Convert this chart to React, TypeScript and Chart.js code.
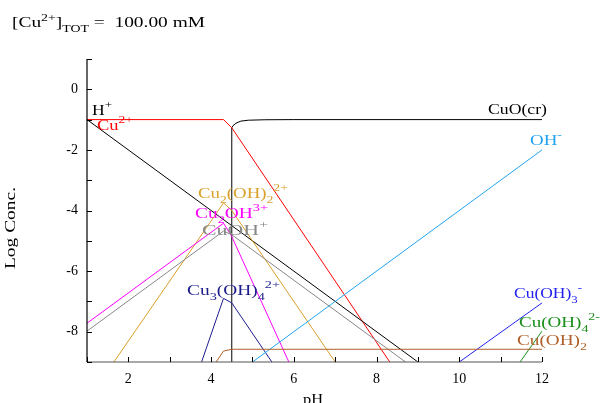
import React, { useEffect, useRef } from 'react';
import { Chart, registerables } from 'chart.js';

Chart.register(...registerables);

// ---------- data ----------
const PH_MIN = 1;
const PH_MAX = 12;
const LOG_MIN = -9;
const LOG_MAX = 1;
const X_TICK_LABELS = [2, 4, 6, 8, 10, 12];
const Y_TICK_LABELS = [0, -2, -4, -6, -8];

const H_PLUS: number[][] = [[1, -1], [9, -9]];
const OH_MINUS: number[][] = [[5, -9], [12, -2]];
const CU2: number[][] = [[1, -1], [4.3, -1], [4.5, -1.27], [8.32, -9]];
const CUO_CR: number[][] = [[4.5, -9], [4.5, -1.27], [4.53, -1.2], [4.6, -1.12], [4.72, -1.05], [4.9, -1.02], [5.3, -1.005], [6, -1], [12, -1]];
const CU2_OH2: number[][] = [[1.65, -9], [4.3, -3.75], [4.5, -4.0], [7.0, -9]];
const CU2_OH: number[][] = [[1, -7.72], [4.3, -4.42], [4.5, -4.86], [5.88, -9]];
const CU_OH: number[][] = [[1, -7.98], [4.3, -4.68], [4.5, -4.8], [8.7, -9]];
const CU3_OH4: number[][] = [[3.77, -9], [4.3, -6.9], [4.5, -7.05], [5.47, -9]];
const CU_OH2: number[][] = [[4.12, -9], [4.3, -8.64], [4.5, -8.58], [12, -8.58]];
const CU_OH3: number[][] = [[10, -9], [12, -7.05]];
const CU_OH4: number[][] = [[11.47, -9], [12, -7.98]];

type Part = { t: string; k?: 'sub' | 'sup' };

const SERIES: { name: string; data: number[][]; color: string }[] = [
  { name: 'Cu(OH)2', data: CU_OH2, color: '#b0602a' },
  { name: 'Cu(OH)4 2-', data: CU_OH4, color: '#1a901a' },
  { name: 'Cu(OH)3-', data: CU_OH3, color: '#2222f0' },
  { name: 'OH-', data: OH_MINUS, color: '#22a4f0' },
  { name: 'Cu3(OH)4 2+', data: CU3_OH4, color: '#1c1c8c' },
  { name: 'CuOH+', data: CU_OH, color: '#888888' },
  { name: 'Cu2OH3+', data: CU2_OH, color: '#ff00ff' },
  { name: 'Cu2(OH)2 2+', data: CU2_OH2, color: '#d9a02a' },
  { name: 'H+', data: H_PLUS, color: '#000000' },
  { name: 'Cu2+', data: CU2, color: '#ff0000' },
  { name: 'CuO(cr)', data: CUO_CR, color: '#000000' },
];

// ---------- text layout (pixels) ----------
const FAMILY = '"Liberation Serif", "Times New Roman", serif';

const LABELS: { parts: Part[]; x: number; y: number; w: number; color: string }[] = [
  { parts: [{ t: 'H' }, { t: '+', k: 'sup' }], x: 92, y: 115, w: 20, color: '#000000' },
  { parts: [{ t: 'Cu' }, { t: '2+', k: 'sup' }], x: 97, y: 130, w: 36, color: '#ff0000' },
  { parts: [{ t: 'CuO(cr)' }], x: 488, y: 114, w: 59, color: '#000000' },
  { parts: [{ t: 'OH' }, { t: '-', k: 'sup' }], x: 530, y: 145, w: 32, color: '#22a4f0' },
  { parts: [{ t: 'Cu' }, { t: '2', k: 'sub' }, { t: '(OH)' }, { t: '2', k: 'sub' }, { t: '2+', k: 'sup' }], x: 198, y: 198, w: 90, color: '#d9a02a' },
  { parts: [{ t: 'Cu' }, { t: '2', k: 'sub' }, { t: 'OH' }, { t: '3+', k: 'sup' }], x: 195, y: 218, w: 73, color: '#ff00ff' },
  { parts: [{ t: 'CuOH' }, { t: '+', k: 'sup' }], x: 202, y: 235, w: 66, color: '#888888' },
  { parts: [{ t: 'Cu' }, { t: '3', k: 'sub' }, { t: '(OH)' }, { t: '4', k: 'sub' }, { t: '2+', k: 'sup' }], x: 187, y: 295, w: 93, color: '#1c1c8c' },
  { parts: [{ t: 'Cu(OH)' }, { t: '3', k: 'sub' }, { t: '-', k: 'sup' }], x: 514, y: 298, w: 68, color: '#2222f0' },
  { parts: [{ t: 'Cu(OH)' }, { t: '4', k: 'sub' }, { t: '2-', k: 'sup' }], x: 519, y: 327, w: 81, color: '#1a901a' },
  { parts: [{ t: 'Cu(OH)' }, { t: '2', k: 'sub' }], x: 517, y: 345, w: 70, color: '#b0602a' },
];

function drawRich(
  ctx: CanvasRenderingContext2D,
  parts: Part[],
  x: number,
  y: number,
  size: number,
  color: string,
  targetW?: number,
  subSize?: number
) {
  const ss = subSize ?? Math.round(size * 0.72);
  const fontFor = (k?: string) => `${k ? ss : size}px ${FAMILY}`;
  let w = 0;
  for (const p of parts) {
    ctx.font = fontFor(p.k);
    w += ctx.measureText(p.t).width;
  }
  const sx = targetW ? targetW / w : 1;
  ctx.save();
  ctx.translate(x, y);
  ctx.scale(sx, 1);
  ctx.fillStyle = color;
  ctx.textAlign = 'left';
  ctx.textBaseline = 'alphabetic';
  let cx = 0;
  for (const p of parts) {
    ctx.font = fontFor(p.k);
    const dy = p.k === 'sub' ? size * 0.33 : p.k === 'sup' ? -size * 0.45 : 0;
    ctx.fillText(p.t, cx, dy);
    cx += ctx.measureText(p.t).width;
  }
  ctx.restore();
}

const decorPlugin = {
  id: 'decor',
  afterDatasetsDraw(chart: any) {
    const ctx: CanvasRenderingContext2D = chart.ctx;
    const xs = chart.scales.x;
    const ys = chart.scales.y;
    const { left, right, top, bottom } = chart.chartArea;
    ctx.save();
    // axes
    ctx.lineWidth = 1.2;
    ctx.strokeStyle = '#000000';
    ctx.beginPath();
    ctx.moveTo(left, top);
    ctx.lineTo(left, bottom);
    ctx.stroke();
    ctx.strokeStyle = '#555555';
    ctx.beginPath();
    ctx.moveTo(left, bottom);
    ctx.lineTo(right, bottom);
    ctx.stroke();
    // inward ticks
    ctx.strokeStyle = '#000000';
    ctx.lineWidth = 1;
    for (let v = LOG_MIN; v <= LOG_MAX; v++) {
      const py = Math.round(ys.getPixelForValue(v)) + 0.5;
      ctx.beginPath();
      ctx.moveTo(left, py);
      ctx.lineTo(left + 5, py);
      ctx.stroke();
    }
    for (let v = PH_MIN; v <= PH_MAX; v++) {
      const px = Math.round(xs.getPixelForValue(v)) + 0.5;
      ctx.beginPath();
      ctx.moveTo(px, bottom);
      ctx.lineTo(px, bottom - 5);
      ctx.stroke();
    }
    ctx.restore();

    // series labels
    for (const l of LABELS) drawRich(ctx, l.parts, l.x, l.y, 15, l.color, l.w, 11);

    // title
    drawRich(
      ctx,
      [{ t: '[Cu' }, { t: '2+', k: 'sup' }, { t: ']' }, { t: 'TOT', k: 'sub' }, { t: ' =  100.00 mM' }],
      12,
      27,
      14,
      '#000000',
      193,
      10
    );

    // x axis title
    drawRich(ctx, [{ t: 'pH' }], 303, 404, 15, '#000000', 20);

    // y axis title (rotated)
    ctx.save();
    ctx.translate(15, 269);
    ctx.rotate(-Math.PI / 2);
    drawRich(ctx, [{ t: 'Log Conc.' }], 0, 0, 14, '#000000', 82);
    ctx.restore();
  },
};

export default function App() {
  const ref = useRef<HTMLCanvasElement | null>(null);

  useEffect(() => {
    if (!ref.current) return;
    const chart = new Chart(ref.current, {
      type: 'line',
      data: {
        datasets: SERIES.map((s) => ({
          label: s.name,
          data: s.data.map(([x, y]) => ({ x, y })),
          borderColor: s.color,
          backgroundColor: s.color,
          borderWidth: 1,
          pointRadius: 0,
          tension: 0,
          fill: false,
        })),
      },
      options: {
        animation: false,
        responsive: false,
        events: [],
        layout: { padding: { top: 59, right: 60, left: 0, bottom: 0 } },
        plugins: { legend: { display: false }, tooltip: { enabled: false }, title: { display: false } },
        scales: {
          x: {
            type: 'linear',
            min: PH_MIN,
            max: PH_MAX,
            grid: { display: false, drawTicks: false },
            border: { display: false },
            afterFit: (s: any) => {
              s.height = 41;
            },
            ticks: {
              stepSize: 1,
              autoSkip: false,
              maxRotation: 0,
              padding: 9,
              color: '#000000',
              font: { family: FAMILY, size: 14 },
              callback: (v: any) => (X_TICK_LABELS.includes(Number(v)) ? String(v) : ''),
            },
          },
          y: {
            type: 'linear',
            min: LOG_MIN,
            max: LOG_MAX,
            grid: { display: false, drawTicks: false },
            border: { display: false },
            afterFit: (s: any) => {
              s.width = 87;
            },
            ticks: {
              stepSize: 1,
              autoSkip: false,
              padding: 9,
              color: '#000000',
              font: { family: FAMILY, size: 14 },
              callback: (v: any) => (Y_TICK_LABELS.includes(Number(v)) ? String(v) : ''),
            },
          },
        },
      },
      plugins: [decorPlugin],
    } as any);
    return () => chart.destroy();
  }, []);

  return (
    <div style={{ position: 'fixed', left: 0, top: 0, width: 602, height: 403, background: '#ffffff' }}>
      <canvas ref={ref} width={602} height={403} style={{ display: 'block' }} />
    </div>
  );
}
